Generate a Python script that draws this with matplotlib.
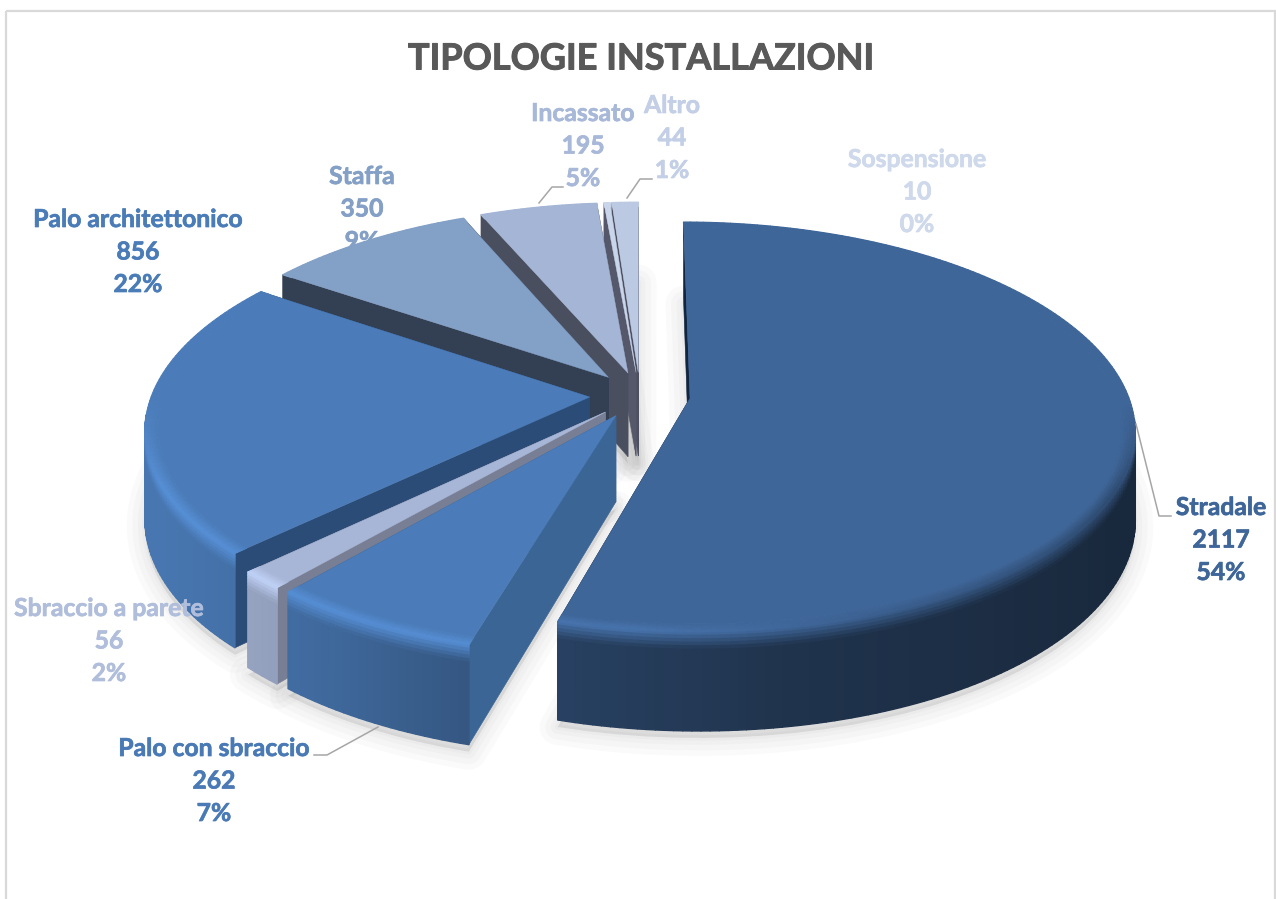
import numpy as np
import matplotlib
matplotlib.use('Agg')
import matplotlib.pyplot as plt
import matplotlib.patheffects as pe
from matplotlib.collections import PolyCollection
from matplotlib.colors import to_rgb
from matplotlib.patches import Rectangle

categories = ['Stradale', 'Palo con sbraccio', 'Sbraccio a parete', 'Palo architettonico',
              'Staffa', 'Incassato', 'Sospensione', 'Altro']
values = [2117, 262, 56, 856, 350, 195, 10, 44]
percents = [54, 7, 2, 22, 9, 5, 0, 1]

top_colors = ['#3f6699', '#4b7cb9', '#a7b6d7', '#4b7cb9', '#83a0c6', '#a5b5d6', '#c9d5ea', '#bcc9e2']
cut_colors = ['#10253f', '#3a6594', '#787f94', '#2b4c76', '#333f52', '#4a4f60', '#55586a', '#4d5060']
text_colors = ['#3f6699', '#4a7ab5', '#b0bedc', '#4a7cb8', '#84a0c6', '#a8b8d8', '#cfd9ec', '#c3cfe6']
label_xy = [(1221, 540), (214, 781), (109, 641), (138, 252), (362, 209), (583, 146), (917, 192), (672, 138)]

# pie geometry in picture pixels
cx, cy = 640, 395
rx, ry = 438, 200
persp_x, persp_y = 0.15, 0.14
explode = 0.115
depth = 85


def project(u, v, d=0.0):
    sx = 1 / (1 + persp_x * v)
    sy = 1 / (1 + persp_y * v)
    return cx + rx * u * sx, cy - ry * v * sy + d * sy


def shade(u):
    return np.interp(u, [-1, -0.64, -0.28, 0.3, 1], [0.95, 0.86, 0.68, 0.5, 0.40])


def mix(c1, c2, t):
    return tuple(a + (b - a) * t for a, b in zip(c1, c2))


def scale(c, f):
    return tuple(min(1, x * f) for x in c)


def rim_color(top, u, v):
    # lit edge at the front left, fading into the dark wall on the right
    front = np.clip((-0.02 - v) / 0.4, 0, 1)
    glow = np.interp(u, [-1, 0, 0.55, 1], [1.16, 1.13, 0.9, 0.72])
    return mix(top, scale(top, glow), front)


def quad(u0, v0, u1, v1, d0, d1, r0=1.0, r1=1.0):
    xa, ya = project(u0[0] + r0 * u0[1], v0[0] + r0 * v0[1], d0)
    xb, yb = project(u1[0] + r0 * u1[1], v1[0] + r0 * v1[1], d0)
    xc, yc = project(u1[0] + r1 * u1[1], v1[0] + r1 * v1[1], d1)
    xd, yd = project(u0[0] + r1 * u0[1], v0[0] + r1 * v0[1], d1)
    return [(xa, ya), (xb, yb), (xc, yc), (xd, yd)]


fig = plt.figure(figsize=(12.76, 8.99), dpi=100)
ax = fig.add_axes([0, 0, 1, 1])
ax.set_xlim(0, 1276)
ax.set_ylim(899, 0)
ax.axis('off')

ax.add_patch(Rectangle((5.5, 10.5), 1269, 900, fill=False, ec='#d9d9d9', lw=1.6, zorder=0))

ax.text(641, 59, 'TIPOLOGIE INSTALLAZIONI', ha='center', va='center', family='Lato',
        weight='bold', fontsize=26, color='#595959', zorder=200,
        path_effects=[pe.withStroke(linewidth=0.7, foreground='#595959')])

edges = np.cumsum([0] + values) / sum(values) * 2 * np.pi
mids = (edges[:-1] + edges[1:]) / 2
order = np.argsort(-np.cos(mids))

# soft shadow under everything
for i in order:
    ang = np.linspace(edges[i], edges[i + 1], 60)
    ou, ov = np.sin(mids[i]) * explode, np.cos(mids[i]) * explode
    px, py = project(np.r_[ou, ou + np.sin(ang)], np.r_[ov, ov + np.cos(ang)], depth)
    for lw in [26, 18, 10, 4]:
        ax.fill(px, py + 7, fc=(0, 0, 0, 0.02), ec=(0, 0, 0, 0.02), lw=lw, joinstyle='round', zorder=2)

z = 3
for i in order:
    top = to_rgb(top_colors[i])
    ang = np.linspace(edges[i], edges[i + 1], max(4, int(np.degrees(edges[i + 1] - edges[i]))))
    ou, ov = np.sin(mids[i]) * explode, np.cos(mids[i]) * explode
    su, sv = np.sin(ang), np.cos(ang)

    # cut faces
    for a in (ang[0], ang[-1]):
        eu, ev = ou + np.sin(a), ov + np.cos(a)
        x0, y0 = project(ou, ov)
        x1, y1 = project(eu, ev)
        x2, y2 = project(eu, ev, depth)
        x3, y3 = project(ou, ov, depth)
        ax.fill([x0, x1, x2, x3], [y0, y1, y2, y3], color=cut_colors[i], lw=0.4, zorder=z)
    z += 1

    # outer wall, front-facing strips only, with a soft ramp below the rim
    stops = [0, 3, 6, 9, 12, 15, depth]
    polys, cols = [], []
    for j in np.argsort(-sv[:-1]):
        if sv[j] > -0.1:
            continue
        wall = scale(top, shade(ou + su[j]))
        rim = rim_color(top, ou + su[j], sv[j])
        for k in range(len(stops) - 1):
            t = min(1, (k + 0.5) / (len(stops) - 2))
            polys.append(quad((ou, su[j]), (ov, sv[j]), (ou, su[j + 1]), (ov, sv[j + 1]), stops[k], stops[k + 1]))
            cols.append(mix(rim, wall, t))
    if polys:
        ax.add_collection(PolyCollection(polys, facecolors=cols, edgecolors=cols, linewidths=1.0, zorder=z))
    z += 1

    # top face with a bevelled rim
    inner = 0.97
    px, py = project(np.r_[ou, ou + inner * su], np.r_[ov, ov + inner * sv])
    ax.fill(px, py, color=top, lw=0.3, zorder=z)
    z += 1
    polys, cols = [], []
    rings = np.linspace(inner, 1.0, 6)
    for j in range(len(ang) - 1):
        rim = rim_color(top, ou + su[j], sv[j])
        for k in range(len(rings) - 1):
            polys.append(quad((ou, su[j]), (ov, sv[j]), (ou, su[j + 1]), (ov, sv[j + 1]), 0, 0, rings[k], rings[k + 1]))
            cols.append(mix(top, rim, (k + 0.5) / (len(rings) - 1)))
    ax.add_collection(PolyCollection(polys, facecolors=cols, edgecolors=cols, linewidths=0.8, zorder=z))
    z += 1

# leader lines
leaders = [([1136, 1159, 1171], [424, 516, 516]),
           ([378, 327, 314], [727, 755, 755]),
           ([539, 552, 563], [203, 187, 187]),
           ([627, 640, 652], [198, 179, 179])]
for lx, ly in leaders:
    ax.plot(lx, ly, color='#a6a6a6', lw=1.1, zorder=150)

for i, name in enumerate(categories):
    ax.text(label_xy[i][0], label_xy[i][1], f'{name}\n{values[i]}\n{percents[i]}%', ha='center', va='center',
            family='Lato', weight='bold', fontsize=17.8, color=text_colors[i], linespacing=1.5,
            zorder=1 if name == 'Staffa' else 200,
            path_effects=[pe.withStroke(linewidth=0.5, foreground=text_colors[i])])

fig.savefig('out.png', dpi=100)
